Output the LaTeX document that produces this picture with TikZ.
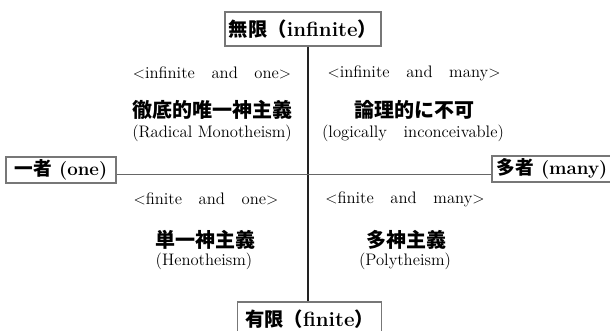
\documentclass[tikz,border=0pt]{standalone}
\usepackage{fontspec}
\newfontfamily\jpfont{Noto Sans CJK JP}
\usetikzlibrary{positioning}
\definecolor{axis-dark}{HTML}{222222}
\definecolor{axis-grey}{HTML}{666666}
\definecolor{box-edge}{HTML}{777777}
\newcommand{\jpbig}[1]{{\jpfont\fontsize{14.5}{16}\selectfont #1}}

\begin{document}
\begin{tikzpicture}[x=0.75pt, y=-0.75pt,
    axisbox/.style={draw=box-edge, line width=0.8pt, fill=white, inner sep=0pt,
        font=\fontsize{14}{16}\selectfont\bfseries},
    bigbox/.style={axisbox, font=\fontsize{15.4}{18}\selectfont\bfseries},
    tag/.style={font=\fontsize{12.5}{14}\selectfont},
    kanji/.style={font=\fontsize{15}{18}\selectfont\jpfont\bfseries},
    gloss/.style={font=\fontsize{12.5}{14}\selectfont}]
    \useasboundingbox (0,0) rectangle (610,331);

    % --- axis boxes
    \node[bigbox, minimum width=117pt, minimum height=25.5pt] (infinite) at (303,29)
        {\jpbig{無限（}infinite\jpbig{）}};
    \node[bigbox, minimum width=108.5pt, minimum height=25.5pt] (finite) at (309.5,319)
        {\jpbig{有限（}finite\jpbig{）}};
    \node[axisbox, minimum width=82.5pt, minimum height=19.5pt] (one) at (61,170)
        {{\jpfont 一者} (one)};
    \node[axisbox, minimum width=90pt, minimum height=19.5pt] (many) at (552,169)
        {{\jpfont 多者} (many)};

    % --- axes through the centre
    \coordinate (centre) at (308,174.5);
    \draw[axis-dark, line width=1.2pt] (infinite.south -| centre) -- (finite.north -| centre);
    \draw[axis-grey, line width=0.8pt] (one.east |- centre) -- (many.west |- centre);

    % --- upper left: infinite and one
    \node[tag] (inf-one-tag) at (212,73) {$<$infinite\quad and\quad one$>$};
    \node[kanji] (inf-one-jp) at (212,110) {徹底的唯一神主義};
    \node[gloss] (inf-one-en) at (212,133) {(Radical Monotheism)};

    % --- upper right: infinite and many
    \node[tag] (inf-many-tag) at (414,73) {$<$infinite\quad and\quad many$>$};
    \node[kanji] (inf-many-jp) at (414,110) {論理的に不可};
    \node[gloss] (inf-many-en) at (413,133) {(logically\quad inconceivable)};

    % --- lower left: finite and one
    \node[tag] (fin-one-tag) at (206,199) {$<$finite\quad and\quad one$>$};
    \node[kanji] (fin-one-jp) at (205,240) {単一神主義};
    \node[gloss] (fin-one-en) at (204,261) {(Henotheism)};

    % --- lower right: finite and many
    \node[tag] (fin-many-tag) at (405,199) {$<$finite\quad and\quad many$>$};
    \node[kanji] (fin-many-jp) at (406,240) {多神主義};
    \node[gloss] (fin-many-en) at (405,261) {(Polytheism)};
\end{tikzpicture}
\end{document}
